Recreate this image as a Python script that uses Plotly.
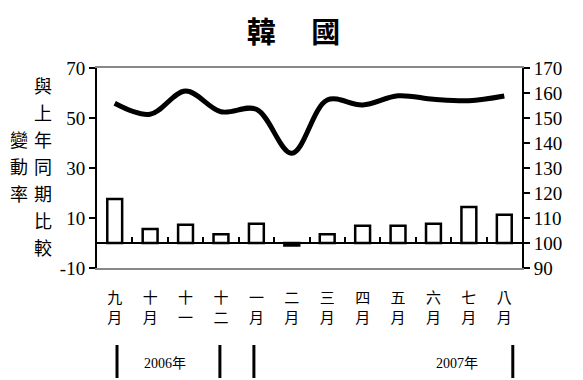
import plotly.graph_objects as go

months = ["九<br>月", "十<br>月", "十<br>一", "十<br>二", "一<br>月", "二<br>月",
          "三<br>月", "四<br>月", "五<br>月", "六<br>月", "七<br>月", "八<br>月"]
change_pct = [17.6, 5.6, 7.3, 3.5, 7.7, -1.0, 3.5, 6.9, 6.9, 7.7, 14.4, 11.3]
index_vals = [155.9, 151.5, 160.8, 152.5, 153.5, 135.9, 157.2, 155.2, 158.9, 157.5, 156.9, 158.8]
left_ticks = [-10, 10, 30, 50, 70]
left_tick_text = ["-10", "10", "30", "50", "70"]
right_ticks = [90, 100, 110, 120, 130, 140, 150, 160, 170]
ylabel_right = "與上年同期比較"
ylabel_left = "變動率"
years = [("2006年", 1.42), ("2007年", 9.66)]
year_marks = [0.065, 2.97, 3.93, 11.24]

x = list(range(len(months)))
SERIF = "Liberation Serif, Times New Roman, serif"
CJK = "Noto Sans CJK TC, Noto Sans CJK SC, sans-serif"

fig = go.Figure()
fig.add_trace(go.Bar(x=x, y=change_pct, width=0.42,
                     marker=dict(color="white", line=dict(color="black", width=2.5)),
                     yaxis="y", xaxis="x", showlegend=False))
fig.add_trace(go.Scatter(x=x, y=index_vals, mode="lines",
                         line=dict(color="black", width=5, shape="spline", smoothing=1.0),
                         yaxis="y2", xaxis="x", showlegend=False))
# invisible trace for zero-line axis
fig.add_trace(go.Scatter(x=[-0.5, 11.5], y=[0, 0], mode="lines",
                         line=dict(color="rgba(0,0,0,0)"), xaxis="x2", yaxis="y",
                         showlegend=False, hoverinfo="skip"))

fig.update_layout(
    width=575, height=372,
    margin=dict(l=89, r=61, t=60, b=112),
    paper_bgcolor="white", plot_bgcolor="white",
    title=dict(text="<b>韓\u3000 國</b>", x=0.4965, xanchor="center", y=0.933, yanchor="middle",
               font=dict(family=CJK, size=29, color="black")),
    xaxis=dict(range=[-0.5, 11.5], tickvals=x, ticktext=months, ticks="",
               showline=True, linecolor="#888888", linewidth=2, mirror=True,
               showgrid=False, zeroline=False, ticklabelstandoff=15,
               tickfont=dict(family=CJK, size=15, color="black")),
    xaxis2=dict(range=[-0.5, 11.5], overlaying="x", anchor="free", position=0.125,
                showline=True, linecolor="black", linewidth=1.5,
                tickvals=[i + 0.5 for i in range(11)], ticks="inside", ticklen=5,
                tickwidth=1.5, tickcolor="black", showticklabels=False, showgrid=False,
                zeroline=False),
    yaxis=dict(range=[-10, 70], tickvals=left_ticks, ticktext=left_tick_text,
               ticks="outside", ticklen=6,
               tickwidth=1.5, tickcolor="black", showline=True, linecolor="black",
               linewidth=2, showgrid=False, zeroline=False,
               tickfont=dict(family=SERIF, size=19, color="black")),
    yaxis2=dict(range=[90, 170], tickvals=right_ticks, overlaying="y", side="right",
                ticks="outside", ticklen=6, tickwidth=1.5, tickcolor="black",
                showline=True, linecolor="black", linewidth=2, showgrid=False,
                zeroline=False, tickfont=dict(family=SERIF, size=19, color="black")),
)

ann = []
# vertical y-axis label, right column
for i, ch in enumerate(ylabel_right):
    ann.append(dict(text=ch, xref="paper", yref="paper", x=-0.128, y=(268 - (85 + 27 * i)) / 200,
                    xanchor="center", yanchor="middle", showarrow=False,
                    font=dict(family=CJK, size=18, color="black")))
for i, ch in enumerate(ylabel_left):
    ann.append(dict(text=ch, xref="paper", yref="paper", x=-0.184, y=(268 - (139 + 27 * i)) / 200,
                    xanchor="center", yanchor="middle", showarrow=False,
                    font=dict(family=CJK, size=18, color="black")))
for txt, xpos in years:
    ann.append(dict(text=txt, xref="x", yref="paper", x=xpos, y=-0.475, xanchor="center",
                    yanchor="middle", showarrow=False,
                    font=dict(family=SERIF + ", " + CJK, size=14, color="black")))
fig.update_layout(annotations=ann)

shapes = []
for xm in year_marks:
    shapes.append(dict(type="line", xref="x", yref="paper", x0=xm, x1=xm, y0=-0.385, y1=-0.55,
                       line=dict(color="black", width=3)))
fig.update_layout(shapes=shapes)

fig.write_html("out.html")
